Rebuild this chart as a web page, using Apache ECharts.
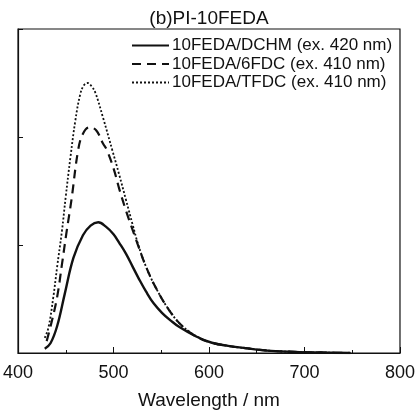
<!DOCTYPE html>
<html>
<head>
<meta charset="utf-8">
<script src="https://cdn.jsdelivr.net/npm/echarts@6/dist/echarts.min.js"></script>
<style>
  html, body { margin: 0; padding: 0; background: #fff; }
  #chart { width: 418px; height: 415px; }
</style>
</head>
<body>
<div id="chart"></div>
<script>
  // 10FEDA/DCHM
  const dchmX = [428, 434, 441, 449, 458, 468, 476, 484, 492, 500, 506, 513, 520, 527, 534, 542, 551, 560, 569, 586, 603, 620, 638, 665, 690, 720, 748];
  const dchmY = [0.04, 0.09, 0.25, 0.55, 0.88, 1.09, 1.18, 1.21, 1.17, 1.10, 1.02, 0.92, 0.80, 0.68, 0.57, 0.46, 0.37, 0.30, 0.24, 0.155, 0.095, 0.066, 0.045, 0.02, 0.01, 0.004, 0];
  // 10FEDA/6FDC
  const fdcX = [430, 435, 441, 446, 451, 456, 463, 468, 475, 482, 489, 493, 500, 506, 513, 520, 526, 534, 544, 558, 572, 589, 603, 620, 638, 665, 690, 720, 748];
  const fdcY = [0.11, 0.28, 0.52, 0.82, 1.13, 1.42, 1.88, 2.03, 2.09, 2.06, 1.94, 1.88, 1.71, 1.52, 1.32, 1.14, 0.99, 0.80, 0.61, 0.40, 0.25, 0.14, 0.095, 0.066, 0.045, 0.02, 0.01, 0.004, 0];
  // 10FEDA/TFDC
  const tfdcX = [428, 432, 437, 441, 446, 450, 455, 460, 465, 469, 473, 477, 481, 489, 499, 506, 513, 520, 526, 534, 544, 558, 572, 589, 603, 620, 638, 665, 690, 720, 748];
  const tfdcY = [0.14, 0.24, 0.52, 0.80, 1.13, 1.45, 1.82, 2.15, 2.39, 2.48, 2.50, 2.47, 2.41, 2.18, 1.87, 1.65, 1.42, 1.19, 1.00, 0.80, 0.61, 0.40, 0.25, 0.145, 0.095, 0.066, 0.045, 0.02, 0.01, 0.004, 0];

  const names = ['10FEDA/DCHM (ex. 420 nm)', '10FEDA/6FDC (ex. 410 nm)', '10FEDA/TFDC (ex. 410 nm)'];

  function pairs(xs, ys) {
    return xs.map((x, i) => [x, ys[i]]);
  }

  const font = 'Liberation Sans, Arial, sans-serif';
  const chart = echarts.init(document.getElementById('chart'));
  const options = {
    animation: false,
    color: ['#111', '#111', '#111'],
    title: {
      text: '(b)PI-10FEDA',
      left: 'center',
      top: 4,
      textStyle: { fontFamily: font, fontSize: 19, fontWeight: 'normal', color: '#111' }
    },
    grid: {
      left: 14,
      right: 18,
      top: 29,
      bottom: 57,
      show: true,
      borderColor: '#111',
      borderWidth: 1.2
    },
    legend: {
      orient: 'vertical',
      left: 131,
      top: 37,
      padding: 0,
      itemWidth: 37,
      itemHeight: 14,
      itemGap: 1.5,
      itemStyle: { opacity: 0 },
      textStyle: { fontFamily: font, fontSize: 17, lineHeight: 17, color: '#111', padding: [0, 0, 0, -2] },
      data: names
    },
    xAxis: {
      type: 'value',
      min: 400,
      max: 800,
      interval: 100,
      axisLine: { lineStyle: { color: '#111', width: 1.2 } },
      axisTick: { inside: true, length: 6, lineStyle: { color: '#111' } },
      minorTick: { show: true, splitNumber: 2, length: 3, lineStyle: { color: '#111' } },
      splitLine: { show: false },
      axisLabel: { fontFamily: font, fontSize: 18, color: '#111', margin: 11 },
      name: 'Wavelength / nm',
      nameLocation: 'middle',
      nameGap: 38,
      nameTextStyle: { fontFamily: font, fontSize: 19, color: '#111' }
    },
    yAxis: {
      type: 'value',
      min: 0,
      max: 3,
      interval: 1,
      axisLine: { show: true, lineStyle: { color: '#111', width: 1.2 } },
      axisTick: { show: true, inside: true, length: 5, lineStyle: { color: '#111' } },
      splitLine: { show: false },
      axisLabel: { show: false }
    },
    series: [
      {
        name: names[0],
        type: 'line',
        smooth: 0.4,
        symbol: 'none',
        data: pairs(dchmX, dchmY),
        lineStyle: { color: '#111', width: 2.4, type: 'solid' }
      },
      {
        name: names[1],
        type: 'line',
        smooth: 0.4,
        symbol: 'none',
        data: pairs(fdcX, fdcY),
        lineStyle: { color: '#111', width: 2.2, type: [9, 6] }
      },
      {
        name: names[2],
        type: 'line',
        smooth: 0.4,
        symbol: 'none',
        data: pairs(tfdcX, tfdcY),
        lineStyle: { color: '#111', width: 1.8, type: [2, 2] }
      }
    ]
  };
  chart.setOption(options);
</script>
</body>
</html>
